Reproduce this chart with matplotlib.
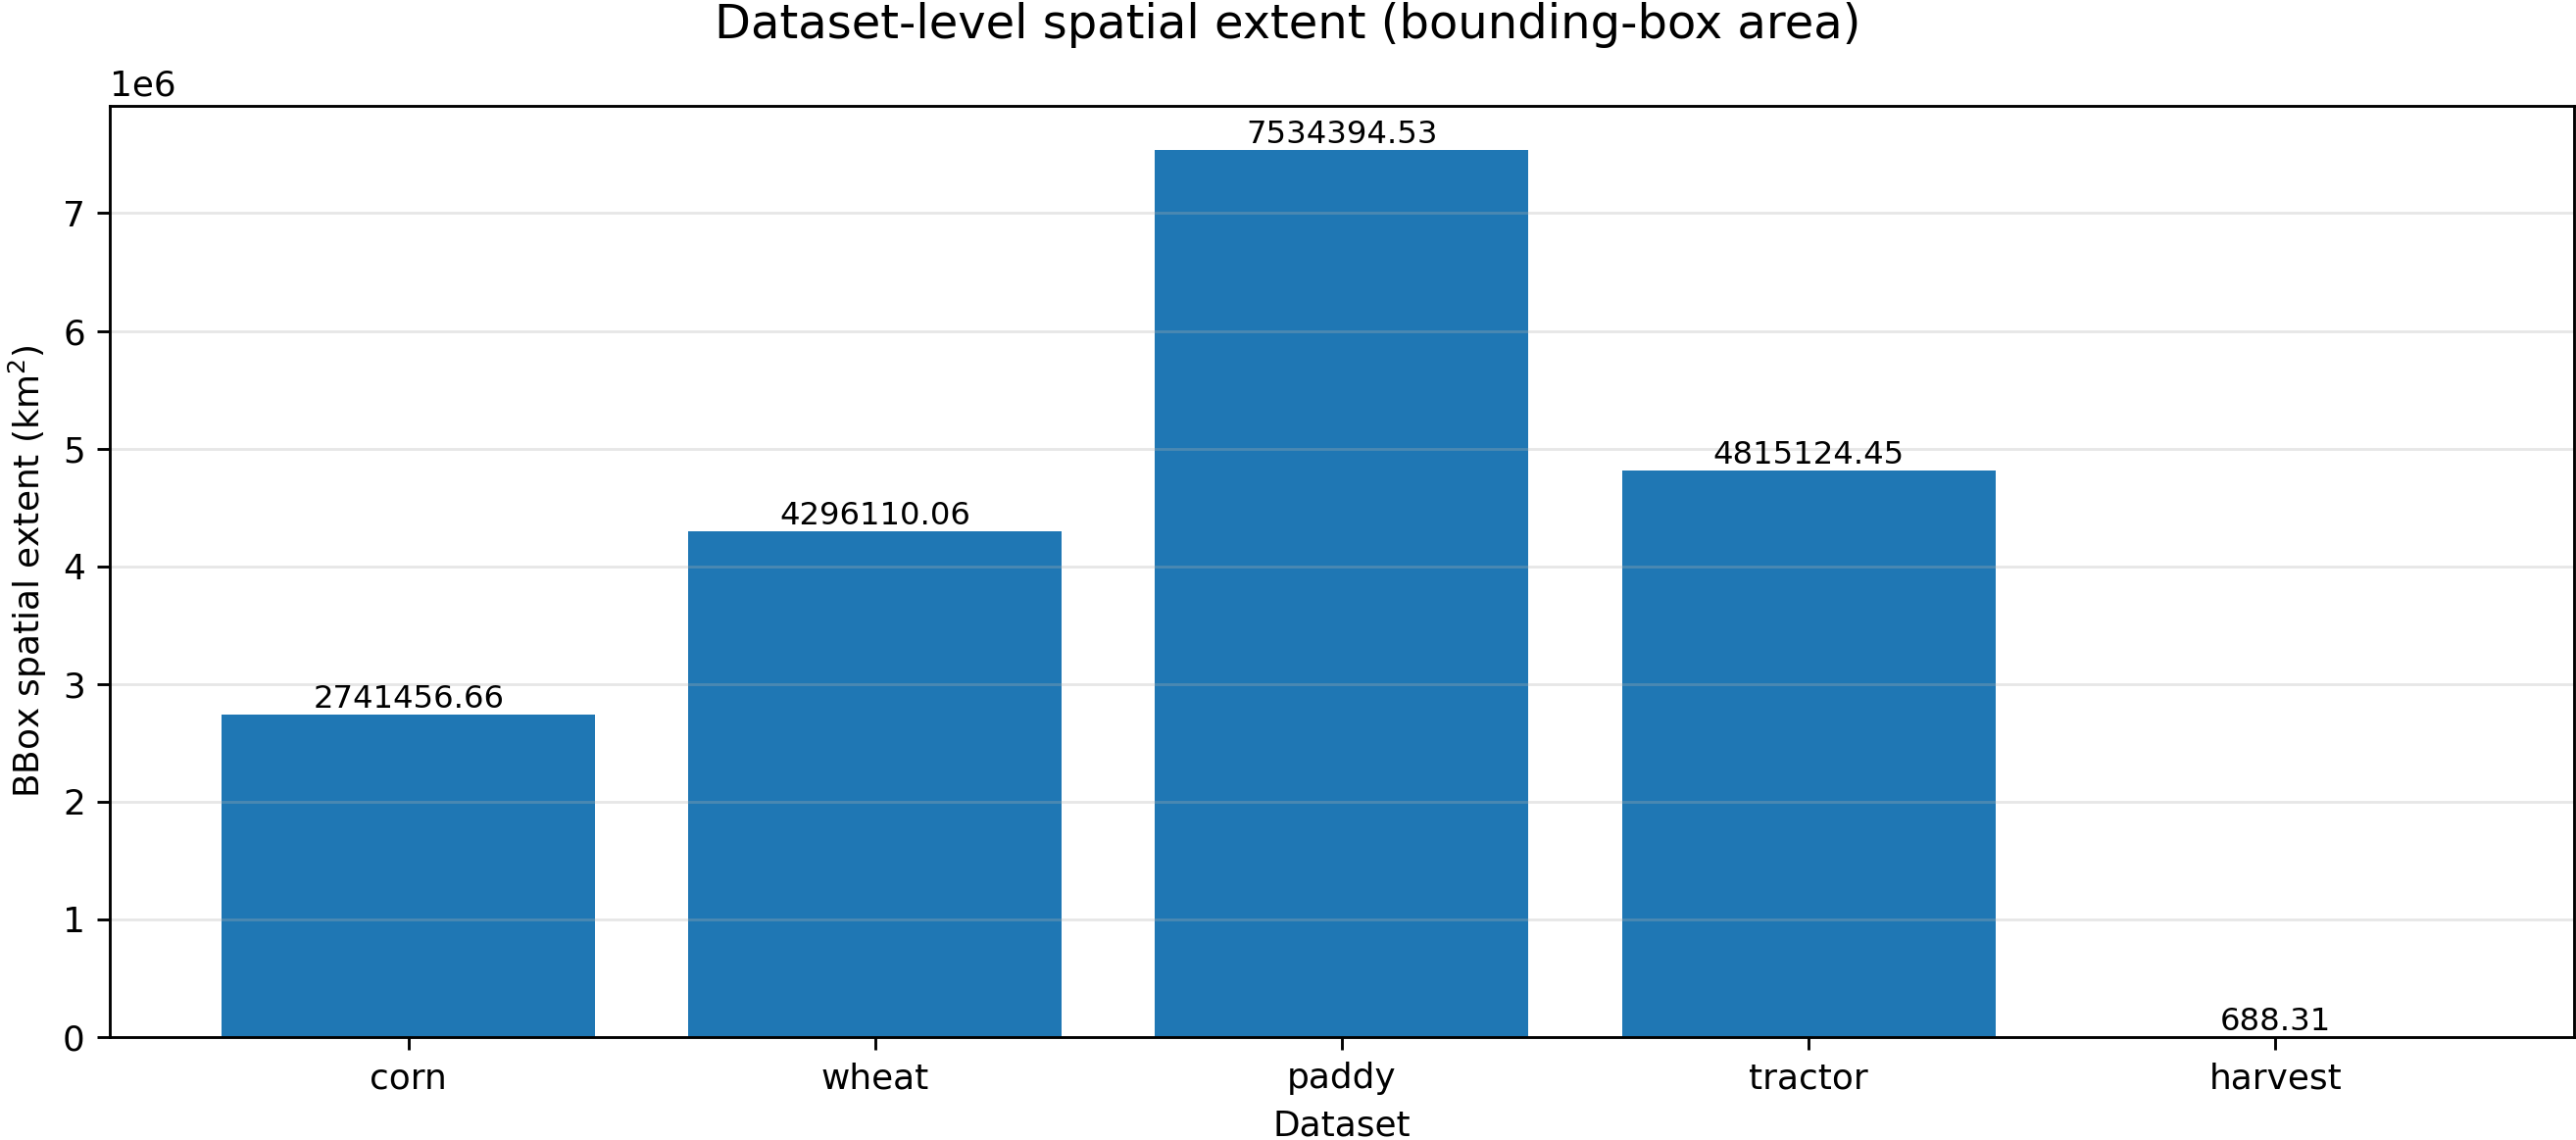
import matplotlib
matplotlib.use("Agg")
import matplotlib.pyplot as plt

datasets = ["corn", "wheat", "paddy", "tractor", "harvest"]
bbox_area_km2 = [2741456.66, 4296110.06, 7534394.53, 4815124.45, 688.31]

DPI = 258
fig, ax = plt.subplots(figsize=(2628 / DPI, 1163 / DPI), dpi=DPI)
bars = ax.bar(datasets, bbox_area_km2)
ax.bar_label(bars, labels=[f"{v:.2f}" for v in bbox_area_km2], fontsize=9)
fig.suptitle("Dataset-level spatial extent (bounding-box area)", fontsize=13.4,
             x=0.5, y=0.978, va="center")
ax.set_xlabel("Dataset")
ax.set_ylabel("BBox spatial extent (km$^2$)")
ax.grid(axis="y", alpha=0.3)
fig.subplots_adjust(left=0.0426, right=0.9992, bottom=0.0903, top=0.9071)
fig.savefig("out.png", dpi=DPI)
